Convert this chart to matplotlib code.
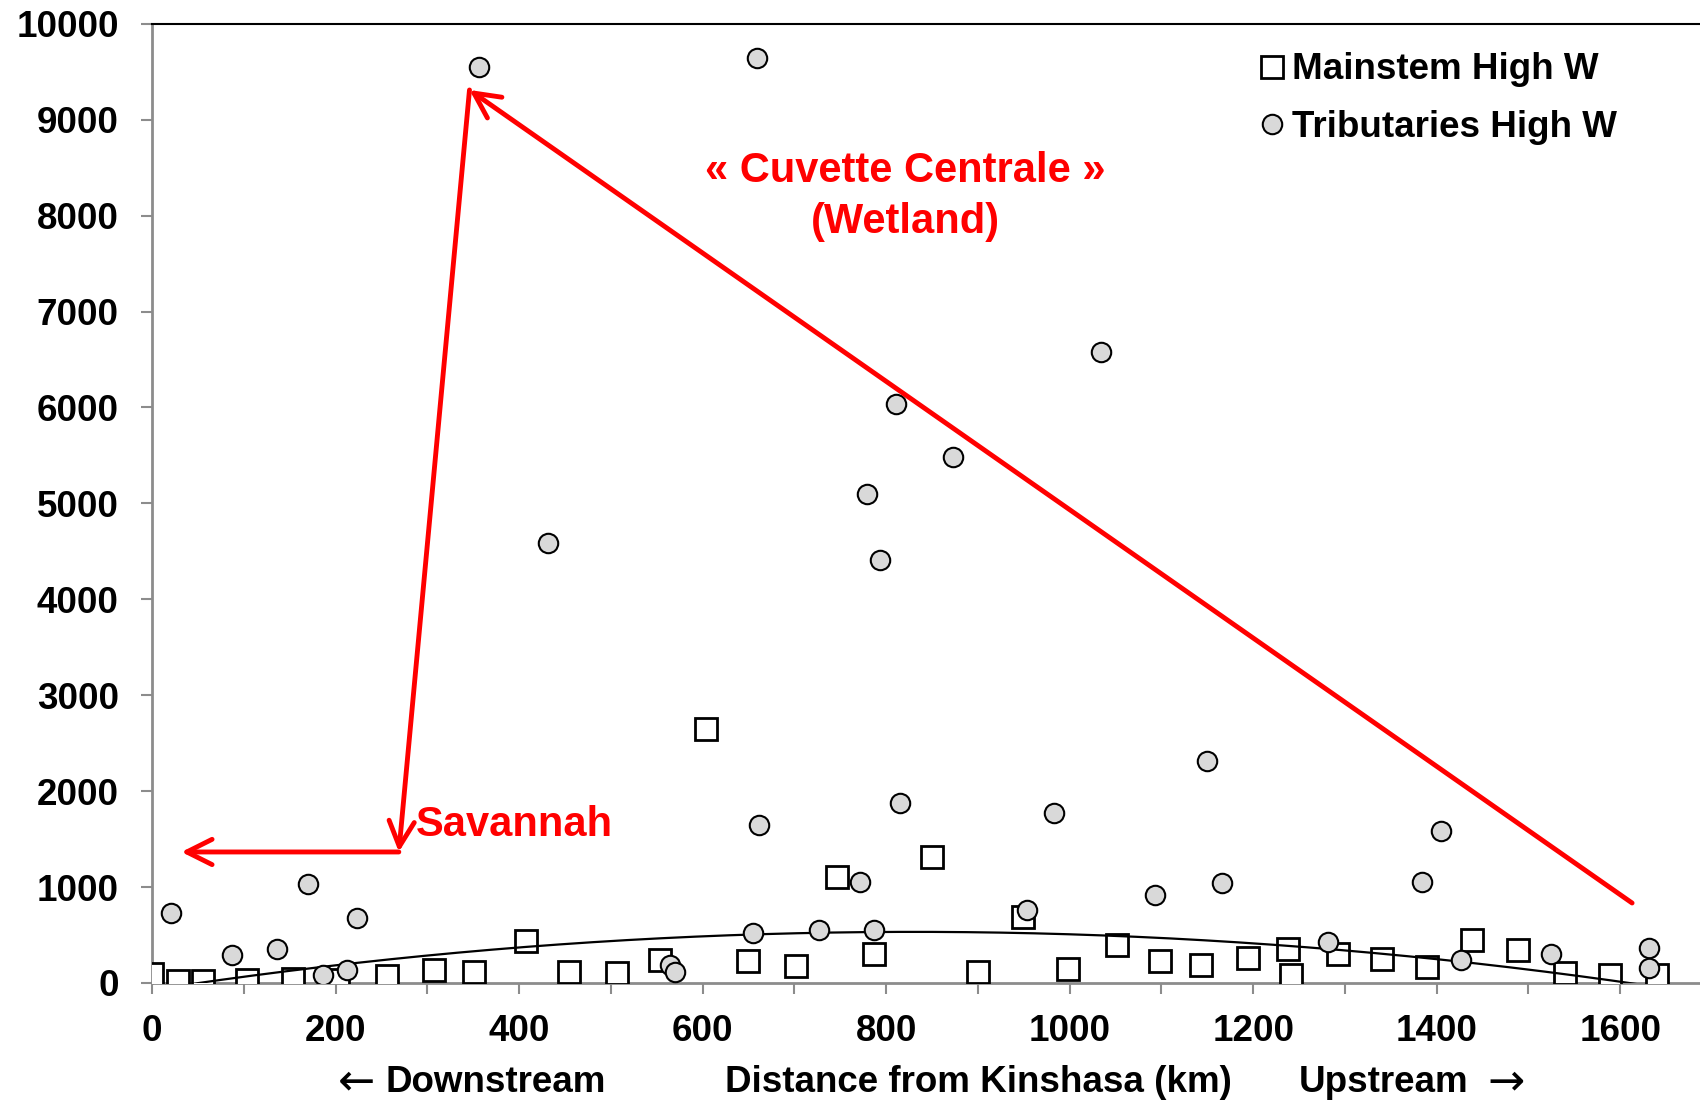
import matplotlib
matplotlib.use("Agg")
import matplotlib.pyplot as plt
import numpy as np
from matplotlib.ticker import MultipleLocator

plt.rcParams['font.family'] = ['Liberation Sans', 'DejaVu Sans']
plt.rcParams['font.weight'] = 'bold'

# mainstem stations (distance km, high-water value)
main_x = [0, 28, 56, 104, 154, 203, 256, 307, 351, 408, 454, 507, 554, 604, 649, 702,
          746, 787, 850, 900, 949, 998, 1052, 1098, 1143, 1194, 1238, 1241, 1292, 1340,
          1390, 1438, 1489, 1540, 1589, 1640]
main_y = [90, 23, 23, 34, 45, 34, 68, 136, 113, 441, 113, 102, 237, 2644, 226, 181,
          1107, 305, 1311, 113, 689, 147, 396, 226, 192, 260, 350, 79, 305, 249,
          170, 452, 339, 102, 79, 79]

# tributaries
trib_x = [21, 87, 136, 170, 186, 213, 223, 356, 432, 565, 570, 655, 659, 661, 727, 772,
          779, 787, 793, 811, 815, 873, 954, 983, 1034, 1093, 1150, 1166, 1282, 1384,
          1405, 1426, 1525, 1631, 1631]
trib_y = [734, 294, 350, 1028, 79, 136, 678, 9548, 4588, 192, 113, 520, 9639, 1650, 554, 1051,
          5096, 554, 4407, 6034, 1876, 5480, 757, 1774, 6577, 915, 2317, 1040, 429, 1051,
          1582, 237, 305, 362, 158]

fig = plt.figure(figsize=(17, 11.02), dpi=100)
ax = fig.add_axes([152/1700, 1 - 983/1102, 1 - 152/1700, (983 - 23.8)/1102])

ax.plot(main_x, main_y, 's', ms=16.5, mfc='white', mec='black', mew=2, zorder=3,
        label='Mainstem High W')

# polynomial trend of the mainstem values
coef = np.polyfit(main_x, main_y, 2)
xx = np.linspace(min(main_x), max(main_x), 400)
ax.plot(xx, np.polyval(coef, xx), color='black', lw=1.6, zorder=4)

ax.plot(trib_x, trib_y, 'o', ms=14, mfc='#d9d9d9', mec='black', mew=1.5, zorder=5,
        label='Tributaries High W')

ax.set_xlim(0, 1687)
ax.set_ylim(0, 10000)
ax.xaxis.set_major_locator(MultipleLocator(200))
ax.xaxis.set_minor_locator(MultipleLocator(100))
ax.yaxis.set_major_locator(MultipleLocator(1000))
ax.tick_params(which='both', direction='out', length=8, width=1.5, color='#8c8c8c',
               labelsize=26.5)
ax.tick_params(axis='x', pad=14)
ax.tick_params(axis='y', pad=16)
for lab in ax.get_xticklabels() + ax.get_yticklabels():
    lab.set_fontweight('bold')
ax.spines['left'].set_color('#8c8c8c')
ax.spines['bottom'].set_color('#8c8c8c')
ax.spines['left'].set_linewidth(2)
ax.spines['bottom'].set_linewidth(2)
ax.spines['top'].set_color('black')
ax.spines['top'].set_linewidth(1.5)
ax.spines['right'].set_visible(False)

# annotations
red = '#ff0000'
aprops = dict(arrowstyle='->,head_length=0.7,head_width=0.35', color=red, lw=3.5,
              mutation_scale=26, shrinkA=0, shrinkB=0)
ax.annotate('', xy=(346, 9310), xytext=(1613, 834), arrowprops=aprops, zorder=6)
ax.annotate('', xy=(269, 1366), xytext=(346, 9310), arrowprops=aprops, zorder=6)
ax.annotate('', xy=(32, 1366), xytext=(269, 1366), arrowprops=aprops, zorder=6)
ax.text(821, 8462, '« Cuvette Centrale »', color=red, fontsize=30, fontweight='bold',
        ha='center', va='center')
ax.text(821, 7930, '(Wetland)', color=red, fontsize=30, fontweight='bold',
        ha='center', va='center')
ax.text(288, 1650, 'Savannah', color=red, fontsize=30, fontweight='bold',
        ha='left', va='center')

leg = ax.legend(loc='upper left', bbox_to_anchor=((1228 - 152)/1548, 0.997),
                frameon=False, prop={'size': 26.5, 'weight': 'bold'},
                handletextpad=0.05, handlelength=1.0, borderaxespad=0.3,
                labelspacing=0.62, markerscale=1.0)

fy = 1 - 1082/1102
fig.text(356/1700, fy, '←', fontsize=32, family='DejaVu Sans', fontweight='normal',
         ha='center', va='center')
fig.text(386/1700, fy, 'Downstream', fontsize=26.5, fontweight='bold', ha='left', va='center')
fig.text(978/1700, fy, 'Distance from Kinshasa (km)', fontsize=26.5, fontweight='bold',
         ha='center', va='center')
fig.text(1468/1700, fy, 'Upstream', fontsize=26.5, fontweight='bold', ha='right', va='center')
fig.text(1506/1700, fy, '→', fontsize=32, family='DejaVu Sans', fontweight='normal',
         ha='center', va='center')

fig.savefig('out.png', dpi=100)
